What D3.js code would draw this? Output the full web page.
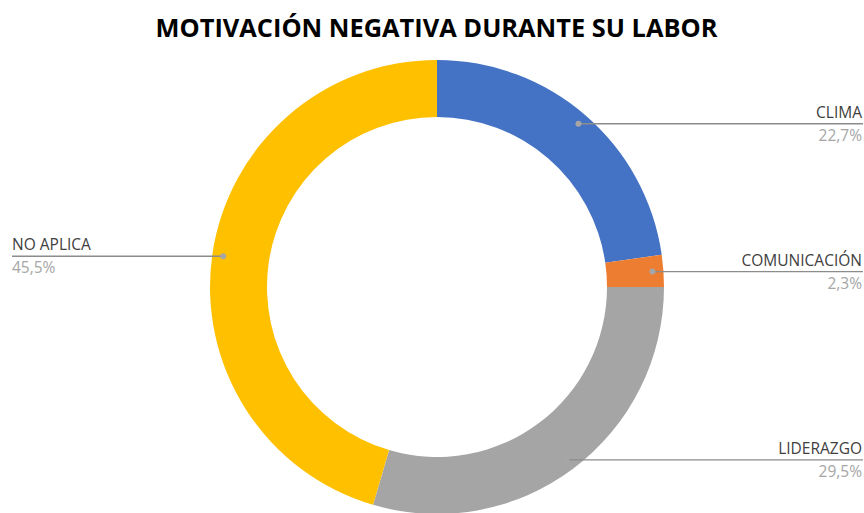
<!DOCTYPE html>
<html><head><meta charset="utf-8">
<script src="https://cdn.jsdelivr.net/npm/d3@7"></script>
<style>html,body{margin:0;padding:0;background:#fff;overflow:hidden}</style>
</head><body><svg id="c" width="864" height="513"></svg>
<script>
const categories = ["CLIMA", "COMUNICACIÓN", "LIDERAZGO", "NO APLICA"];
const values = [10, 1, 13, 20];
const percentLabels = ["22,7%", "2,3%", "29,5%", "45,5%"];
const colors = ["#4472C4", "#ED7D31", "#A5A5A5", "#FFC000"];
const title = "MOTIVACIÓN NEGATIVA DURANTE SU LABOR";

const W = 864, H = 513;
const cx = 437, cy = 287, rOuter = 227, rInner = 170, rDot = 216;
const svg = d3.select("#c");

svg.append("text").attr("x", 436.5).attr("y", 37).attr("text-anchor", "middle")
  .attr("font-family", "'Open Sans', sans-serif").attr("font-weight", 700)
  .attr("font-size", 25.4).attr("fill", "#000").text(title);

const data = categories.map((c, i) => ({cat: c, value: values[i], pct: percentLabels[i], color: colors[i]}));
const pie = d3.pie().sort(null).value(d => d.value);
const arc = d3.arc().innerRadius(rInner).outerRadius(rOuter);
const dotArc = d3.arc().innerRadius(rDot).outerRadius(rDot);
const g = svg.append("g").attr("transform", `translate(${cx},${cy})`);
const arcs = pie(data);

g.selectAll("path").data(arcs).join("path")
  .attr("d", arc).attr("fill", d => d.data.color);

const labG = svg.append("g");
arcs.forEach(a => {
  const [dx, dy] = dotArc.centroid(a);
  const x = cx + dx, y = cy + dy;
  const right = x > cx;
  const xEnd = right ? 863 : 12;
  labG.append("line").attr("x1", x).attr("y1", y).attr("x2", xEnd).attr("y2", y)
    .attr("stroke", "#8c8c8c").attr("stroke-width", 1.3);
  labG.append("circle").attr("cx", x).attr("cy", y).attr("r", 3).attr("fill", "#a6a6a6");
  const anchor = right ? "end" : "start";
  const tx = right ? 862 : 12;
  labG.append("text").attr("x", tx).attr("y", y - 6).attr("text-anchor", anchor)
    .attr("font-family", "'Open Sans', sans-serif").attr("font-size", 15.5)
    .attr("fill", "#404040").text(a.data.cat);
  labG.append("text").attr("x", tx).attr("y", y + 17).attr("text-anchor", anchor)
    .attr("font-family", "'Open Sans', sans-serif").attr("font-size", 15.5)
    .attr("fill", "#a6a6a6").text(a.data.pct);
});
</script></body></html>
